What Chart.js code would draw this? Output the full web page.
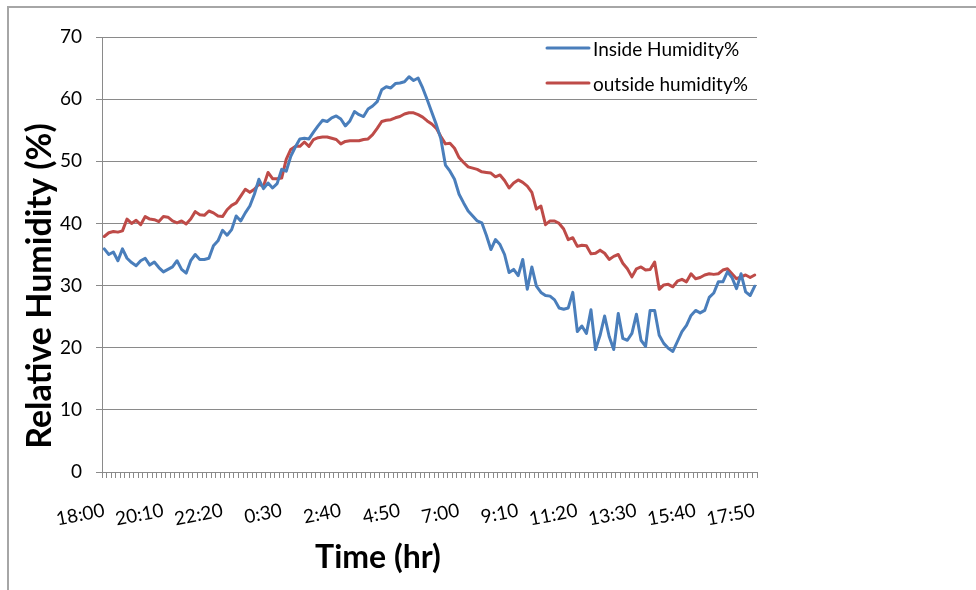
<!DOCTYPE html>
<html>
<head>
<meta charset="utf-8">
<script src="https://cdn.jsdelivr.net/npm/chart.js@4.4.1/dist/chart.umd.min.js"></script>
<style>
  html, body { margin: 0; padding: 0; background: #fff; overflow: hidden; }
  #wrap { position: relative; width: 976px; height: 590px; }
</style>
</head>
<body>
<div id="wrap"><canvas id="c" width="976" height="590"></canvas></div>
<script>
// Readings every 10 minutes, 18:00 through 17:50 the next day
const times = [];
for (let k = 0; k < 144; k++) {
  const m = (18 * 60 + k * 10) % 1440;
  times.push(Math.floor(m / 60) + ':' + String(m % 60).padStart(2, '0'));
}

// Times that get a label on the x axis
const tickLabels = ['18:00', '20:10', '22:20', '0:30', '2:40', '4:50', '7:00',
                    '9:10', '11:20', '13:30', '15:40', '17:50'];

const yTicks = { min: 0, max: 70, step: 10 };

const insideHumidity = [
  35.9, 35.0, 35.4, 34.0, 35.9, 34.4, 33.7, 33.2, 34.0, 34.4,
  33.3, 33.8, 32.9, 32.2, 32.6, 33.0, 34.0, 32.6, 32.0, 34.0,
  35.0, 34.2, 34.2, 34.4, 36.4, 37.2, 38.9, 38.1, 39.0, 41.2,
  40.4, 41.7, 42.8, 44.7, 47.1, 45.6, 46.5, 45.7, 46.4, 48.7,
  48.4, 50.8, 52.3, 53.6, 53.7, 53.6, 54.7, 55.7, 56.6, 56.4,
  57.0, 57.3, 56.8, 55.7, 56.5, 58.0, 57.5, 57.2, 58.4, 58.9,
  59.6, 61.5, 62.0, 61.8, 62.5, 62.6, 62.8, 63.6, 63.0, 63.4,
  61.8, 59.9, 57.9, 55.9, 53.6, 49.4, 48.4, 47.1, 44.7, 43.3,
  42.0, 41.2, 40.4, 40.1, 38.1, 35.8, 37.4, 36.6, 35.0, 32.1,
  32.6, 31.6, 34.2, 29.4, 33.0, 29.9, 28.9, 28.4, 28.3, 27.7,
  26.4, 26.2, 26.4, 28.9, 22.6, 23.5, 22.3, 26.1, 19.7, 22.0,
  25.1, 21.8, 19.7, 25.5, 21.5, 21.2, 22.3, 25.4, 21.2, 20.2,
  26.0, 26.0, 22.0, 20.7, 19.9, 19.4, 21.0, 22.6, 23.6, 25.2,
  26.0, 25.6, 26.0, 28.1, 28.8, 30.6, 30.6, 32.2, 31.3, 29.5,
  31.9, 29.0, 28.4, 29.9
];

const outsideHumidity = [
  37.9, 38.5, 38.7, 38.6, 38.8, 40.7, 40.0, 40.5, 39.8, 41.1,
  40.7, 40.6, 40.3, 41.1, 41.0, 40.4, 40.1, 40.4, 39.9, 40.7,
  41.9, 41.4, 41.3, 42.0, 41.7, 41.2, 41.1, 42.2, 42.9, 43.3,
  44.4, 45.5, 45.0, 45.5, 46.3, 46.0, 48.2, 47.2, 47.2, 47.3,
  50.3, 51.9, 52.4, 52.4, 53.1, 52.4, 53.5, 53.8, 53.9, 53.9,
  53.7, 53.5, 52.8, 53.2, 53.3, 53.3, 53.3, 53.5, 53.6, 54.3,
  55.3, 56.4, 56.6, 56.7, 57.0, 57.2, 57.6, 57.8, 57.8, 57.5,
  57.1, 56.5, 56.0, 55.3, 54.0, 52.8, 52.9, 52.1, 50.6, 49.8,
  49.1, 48.9, 48.7, 48.3, 48.2, 48.1, 47.5, 47.8, 46.9, 45.7,
  46.5, 47.0, 46.6, 46.0, 45.0, 42.3, 42.8, 39.8, 40.4, 40.4,
  40.0, 39.1, 37.4, 37.7, 36.3, 36.5, 36.4, 35.1, 35.2, 35.7,
  35.2, 34.2, 34.7, 35.0, 33.6, 32.7, 31.4, 32.7, 33.0, 32.5,
  32.6, 33.8, 29.4, 30.1, 30.2, 29.8, 30.7, 31.0, 30.6, 31.9,
  31.1, 31.3, 31.7, 31.9, 31.8, 31.9, 32.5, 32.7, 31.9, 31.1,
  31.4, 31.7, 31.3, 31.7
];

const BLUE = '#4a7ebb';
const RED = '#be4b48';
const AXIS_GRAY = '#8a8a8a';
const FONT = 'Lato, "Open Sans", sans-serif';

// White page with the thin frame along the left and top edges
const framePlugin = {
  id: 'frame',
  beforeDraw(chart) {
    const ctx = chart.ctx;
    ctx.save();
    ctx.fillStyle = '#fff';
    ctx.fillRect(0, 0, chart.width, chart.height);
    ctx.strokeStyle = '#a6a6a6';
    ctx.lineWidth = 2;
    ctx.beginPath();
    ctx.moveTo(8, chart.height);
    ctx.lineTo(8, 7);
    ctx.lineTo(chart.width, 7);
    ctx.stroke();
    ctx.restore();
  }
};

// Axis titles
const titlePlugin = {
  id: 'axisTitles',
  afterDraw(chart) {
    const ctx = chart.ctx;
    const a = chart.chartArea;
    ctx.save();
    ctx.fillStyle = '#000';
    ctx.textAlign = 'center';
    ctx.textBaseline = 'alphabetic';
    ctx.font = 'bold 32px ' + FONT;
    ctx.fillText('Time (hr)', a.left + 276, a.bottom + 96);
    ctx.font = 'bold 34px ' + FONT;
    ctx.translate(a.left - 51, a.top + 249);
    ctx.rotate(-Math.PI / 2);
    ctx.fillText('Relative Humidity (%)', 0, 0);
    ctx.restore();
  }
};

// Legend in the upper right of the plot
const legendPlugin = {
  id: 'sideLegend',
  afterDraw(chart) {
    const ctx = chart.ctx;
    const a = chart.chartArea;
    const x0 = a.right - 210;
    const rows = [a.top + 11, a.top + 46];
    ctx.save();
    ctx.font = '19px ' + FONT;
    ctx.textAlign = 'left';
    ctx.textBaseline = 'alphabetic';
    chart.data.datasets.forEach((ds, i) => {
      const y = rows[i];
      ctx.strokeStyle = ds.borderColor;
      ctx.lineWidth = 3;
      ctx.lineCap = 'round';
      ctx.beginPath();
      ctx.moveTo(x0, y);
      ctx.lineTo(x0 + 42, y);
      ctx.stroke();
      ctx.fillStyle = '#000';
      ctx.fillText(ds.label, x0 + 46, y + 8);
    });
    ctx.restore();
  }
};

new Chart(document.getElementById('c'), {
  type: 'line',
  data: {
    labels: times,
    datasets: [
      { label: 'Inside Humidity%', data: insideHumidity, borderColor: BLUE },
      { label: 'outside humidity%', data: outsideHumidity, borderColor: RED }
    ]
  },
  options: {
    responsive: false,
    devicePixelRatio: 1,
    animation: false,
    layout: { padding: { top: 37, right: 219, left: 0, bottom: 0 } },
    elements: {
      line: { borderWidth: 3, tension: 0, borderJoinStyle: 'round', borderCapStyle: 'round', fill: false },
      point: { radius: 0, hoverRadius: 0 }
    },
    plugins: {
      legend: { display: false },
      tooltip: { enabled: false },
      title: { display: false }
    },
    scales: {
      x: {
        type: 'category',
        offset: true,
        afterFit(scale) { scale.height = 118; },
        grid: {
          offset: true,
          drawOnChartArea: false,
          drawTicks: true,
          tickLength: 6,
          color: AXIS_GRAY,
          lineWidth: 1
        },
        border: { display: true, color: AXIS_GRAY, width: 1 },
        ticks: {
          autoSkip: false,
          minRotation: 11,
          maxRotation: 11,
          padding: 21,
          color: '#000',
          font: { family: FONT, size: 19 },
          callback(value, index) {
            const t = this.getLabelForValue(value);
            return tickLabels.includes(t) ? t : '';
          }
        }
      },
      y: {
        min: yTicks.min,
        max: yTicks.max,
        afterFit(scale) { scale.width = 102; },
        grid: {
          color: AXIS_GRAY,
          lineWidth: 1,
          drawTicks: true,
          tickLength: 6
        },
        border: { display: true, color: AXIS_GRAY, width: 1 },
        ticks: {
          stepSize: yTicks.step,
          padding: 14,
          color: '#000',
          font: { family: FONT, size: 19 }
        }
      }
    }
  },
  plugins: [framePlugin, titlePlugin, legendPlugin]
});
</script>
</body>
</html>
